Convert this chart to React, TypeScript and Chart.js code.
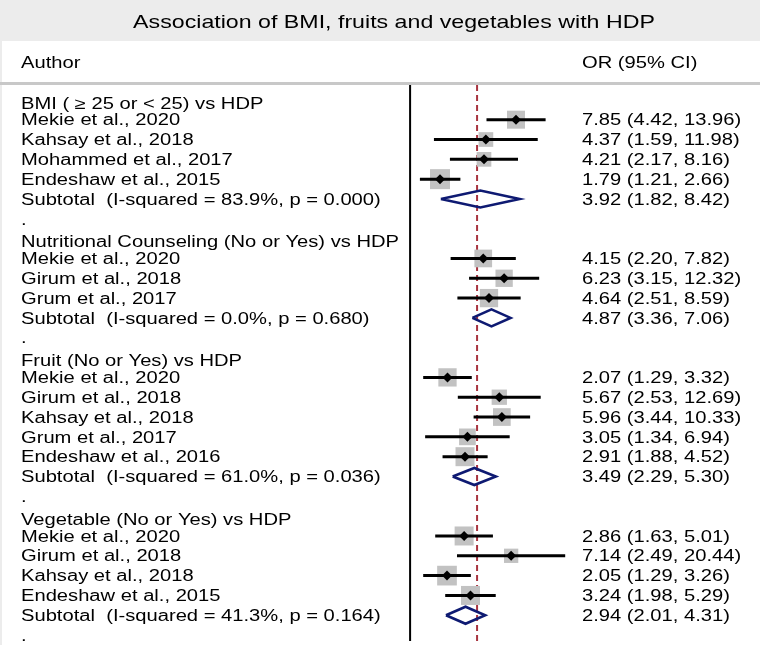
import { useEffect, useRef } from 'react';
import { Chart, registerables } from 'chart.js';

Chart.register(...registerables);

const chartTitle = 'Association of BMI, fruits and vegetables with HDP';
const headerLeft = 'Author';
const headerRight = 'OR (95% CI)';

const rowLabels = [
  'BMI ( \u2265 25 or < 25) vs HDP',
  'Mekie et al., 2020',
  'Kahsay et al., 2018',
  'Mohammed et al., 2017',
  'Endeshaw et al., 2015',
  'Subtotal  (I-squared = 83.9%, p = 0.000)',
  '.',
  'Nutritional Counseling (No or Yes) vs HDP',
  'Mekie et al., 2020',
  'Girum et al., 2018',
  'Grum et al., 2017',
  'Subtotal  (I-squared = 0.0%, p = 0.680)',
  '.',
  'Fruit (No or Yes) vs HDP',
  'Mekie et al., 2020',
  'Girum et al., 2018',
  'Kahsay et al., 2018',
  'Grum et al., 2017',
  'Endeshaw et al., 2016',
  'Subtotal  (I-squared = 61.0%, p = 0.036)',
  '.',
  'Vegetable (No or Yes) vs HDP',
  'Mekie et al., 2020',
  'Girum et al., 2018',
  'Kahsay et al., 2018',
  'Endeshaw et al., 2015',
  'Subtotal  (I-squared = 41.3%, p = 0.164)',
  '.',
];

// g = group header, s = study, t = subtotal, d = separator dot
const rowKinds = [
  'g', 's', 's', 's', 's', 't', 'd',
  'g', 's', 's', 's', 't', 'd',
  'g', 's', 's', 's', 's', 's', 't', 'd',
  'g', 's', 's', 's', 's', 't', 'd',
];

const oddsRatios = [
  null, 7.85, 4.37, 4.21, 1.79, 3.92, null,
  null, 4.15, 6.23, 4.64, 4.87, null,
  null, 2.07, 5.67, 5.96, 3.05, 2.91, 3.49, null,
  null, 2.86, 7.14, 2.05, 3.24, 2.94, null,
];
const lowerCI = [
  null, 4.42, 1.59, 2.17, 1.21, 1.82, null,
  null, 2.2, 3.15, 2.51, 3.36, null,
  null, 1.29, 2.53, 3.44, 1.34, 1.88, 2.29, null,
  null, 1.63, 2.49, 1.29, 1.98, 2.01, null,
];
const upperCI = [
  null, 13.96, 11.98, 8.16, 2.66, 8.42, null,
  null, 7.82, 12.32, 8.59, 7.06, null,
  null, 3.32, 12.69, 10.33, 6.94, 4.52, 5.3, null,
  null, 5.01, 20.44, 3.26, 5.29, 4.31, null,
];
// relative study weights (box size)
const studyWeights = [
  null, 18, 14.7, 14.7, 20, null, null,
  null, 17.7, 17.3, 18.3, null, null,
  null, 18.3, 15.3, 17.7, 16.7, 19, null, null,
  null, 19, 14.3, 19.7, 19, null, null,
];

const overallOR = 3.68;
const nullOR = 1;

const FONT_FAMILY = '"Liberation Sans", Arial, Helvetica, sans-serif';

function stretchText(
  ctx: CanvasRenderingContext2D,
  text: string,
  x: number,
  y: number,
  size: number,
  sx: number,
  align: 'left' | 'center' = 'left'
) {
  ctx.save();
  ctx.font = `${size}px ${FONT_FAMILY}`;
  ctx.textBaseline = 'alphabetic';
  ctx.textAlign = 'left';
  ctx.fillStyle = '#000';
  const w = ctx.measureText(text).width * sx;
  const x0 = align === 'center' ? x - w / 2 : x;
  ctx.translate(x0, y);
  ctx.scale(sx, 1);
  ctx.fillText(text, 0, 0);
  ctx.restore();
}

const NaNPt = { x: NaN, y: NaN };

export default function App() {
  const ref = useRef<HTMLCanvasElement | null>(null);

  useEffect(() => {
    if (!ref.current) return;

    const ciData: any[] = [];
    const boxData: any[] = [];
    const boxRadii: number[] = [];
    const pointData: any[] = [];
    const diamondData: any[] = [];
    const dh = 0.43;

    rowKinds.forEach((k, i) => {
      const or = oddsRatios[i];
      const lo = lowerCI[i];
      const hi = upperCI[i];
      if (k === 's' && or != null && lo != null && hi != null) {
        ciData.push({ x: lo, y: i }, { x: hi, y: i }, NaNPt);
        boxData.push({ x: or, y: i });
        boxRadii.push((studyWeights[i] as number) / Math.SQRT2);
        pointData.push({ x: or, y: i });
      } else if (k === 't' && or != null && lo != null && hi != null) {
        diamondData.push(
          { x: lo, y: i },
          { x: or, y: i - dh },
          { x: hi, y: i },
          { x: or, y: i + dh },
          { x: lo, y: i },
          NaNPt
        );
      }
    });

    const textPlugin = {
      id: 'forestText',
      beforeDraw(chart: any) {
        const ctx = chart.ctx as CanvasRenderingContext2D;
        const W = chart.width;
        const H = chart.height;
        ctx.save();
        ctx.fillStyle = '#ffffff';
        ctx.fillRect(0, 0, W, H);
        ctx.fillStyle = '#ececec';
        ctx.fillRect(0, 0, W, 41);
        ctx.fillRect(0, 41, 2, H - 41);
        ctx.fillStyle = '#c8c8c8';
        ctx.fillRect(0, 82, W, 3);
        ctx.restore();
      },
      afterDraw(chart: any) {
        const ctx = chart.ctx as CanvasRenderingContext2D;
        const yScale = chart.scales.y;
        stretchText(ctx, chartTitle, 394, 28, 19, 1.22, 'center');
        stretchText(ctx, headerLeft, 21, 68, 16, 1.26);
        stretchText(ctx, headerRight, 582, 68, 16, 1.26);
        rowLabels.forEach((label, i) => {
          const yc = yScale.getPixelForValue(i);
          const off = rowKinds[i] === 'g' ? 3 : 0;
          stretchText(ctx, label, 21, yc + 5.7 + off, 16, 1.26);
          const or = oddsRatios[i];
          const lo = lowerCI[i];
          const hi = upperCI[i];
          if (or != null && lo != null && hi != null) {
            const txt = `${or.toFixed(2)} (${lo.toFixed(2)}, ${hi.toFixed(2)})`;
            stretchText(ctx, txt, 582, yc + 5.7, 16, 1.26);
          }
        });
      },
    };

    const chart = new Chart(ref.current, {
      type: 'scatter',
      data: {
        datasets: [
          {
            label: 'markers',
            data: pointData,
            pointStyle: 'rectRot',
            pointRadius: 5,
            backgroundColor: '#000',
            borderColor: '#000',
            borderWidth: 0,
            order: 0,
          } as any,
          {
            label: 'ci',
            data: ciData,
            showLine: true,
            borderColor: '#000',
            borderWidth: 3,
            pointRadius: 0,
            spanGaps: false,
            order: 1,
          } as any,
          {
            label: 'diamonds',
            data: diamondData,
            showLine: true,
            borderColor: '#0e1a72',
            borderWidth: 2.6,
            borderJoinStyle: 'miter',
            pointRadius: 0,
            spanGaps: false,
            order: 1,
          } as any,
          {
            label: 'boxes',
            data: boxData,
            pointStyle: 'rect',
            pointRadius: boxRadii,
            backgroundColor: '#c2c2c2',
            borderWidth: 0,
            order: 2,
          } as any,
          {
            label: 'overall',
            data: [
              { x: overallOR, y: -0.75 },
              { x: overallOR, y: 27.5 },
            ],
            showLine: true,
            borderColor: '#a8333f',
            borderWidth: 2,
            borderDash: [6, 4],
            pointRadius: 0,
            order: 3,
          } as any,
          {
            label: 'null',
            data: [
              { x: nullOR, y: -0.75 },
              { x: nullOR, y: 27.3 },
            ],
            showLine: true,
            borderColor: '#000',
            borderWidth: 2,
            pointRadius: 0,
            order: 3,
          } as any,
        ],
      },
      options: {
        responsive: false,
        animation: false,
        devicePixelRatio: 1,
        layout: { autoPadding: false, padding: { left: 400, right: 180, top: 85, bottom: 0 } },
        scales: {
          x: { type: 'logarithmic', min: 0.8216, max: 27.26, display: false },
          y: { type: 'linear', min: -0.75, max: 27.5, reverse: true, display: false },
        },
        plugins: {
          legend: { display: false },
          tooltip: { enabled: false },
          title: { display: false },
        },
        events: [],
      } as any,
      plugins: [textPlugin],
    });

    return () => chart.destroy();
  }, []);

  return (
    <div style={{ position: 'absolute', left: 0, top: 0, width: 760, height: 645, background: '#fff' }}>
      <canvas ref={ref} width={760} height={645} style={{ display: 'block', width: 760, height: 645 }} />
    </div>
  );
}
